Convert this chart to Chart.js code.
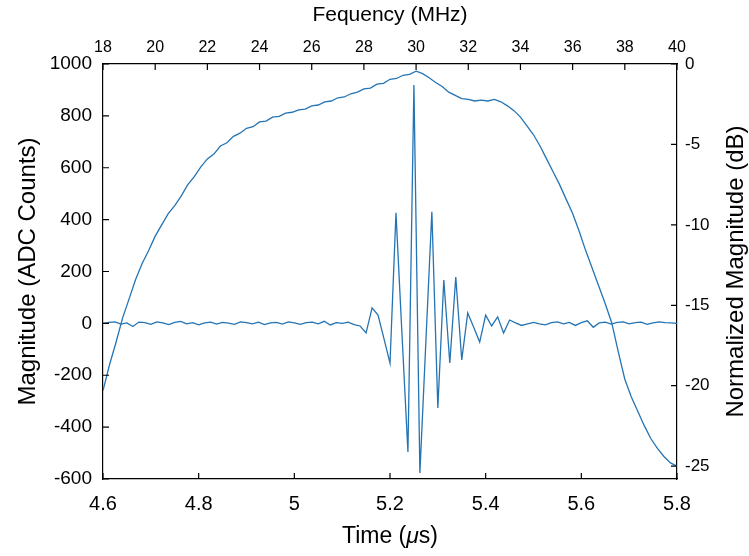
<!DOCTYPE html>
<html>
<head>
<meta charset="utf-8">
<script src="https://cdn.jsdelivr.net/npm/chart.js@4.4.0/dist/chart.umd.min.js"></script>
<style>
    html, body { margin: 0; padding: 0; background: #fff; }
    #wrap { width: 749px; height: 556px; }
</style>
</head>
<body>
<div id="wrap"><canvas id="pulseChart" width="749" height="556"></canvas></div>
<script>
// time-domain echo, one sample every 12.5 ns starting at 4.6 us
var sampleStart = 4.6;
var sampleStep = 0.0125;
var echoCounts = [
    0, 4, 6, -3, 2, -12, 5, 3, -4, 6,
    2, -5, 4, 8, -2, 3, -6, 2, 5, -3,
    4, 1, -4, 6, 3, -2, 5, -5, 2, 4,
    -3, 6, 2, -4, 3, 5, -2, 8, -6, 3,
    0, 5, -5, -10, -37, 60, 32, -60, -153, 426,
    -40, -496, 919, -577, -70, 430, -326, 167, -153, 179,
    -141, 40, -15, -72, 32, -10, 25, -37, 13, 2,
    -8, -2, 4, -2, -6, 3, 6, -2, 4, -8,
    3, 10, -15, 2, 5, -3, 4, 6, -2, 3,
    5, -4, 2, 6, 3, 2, 0
];

// spectrum, one point every 0.25 MHz from 18 MHz
var freqStart = 18;
var freqStep = 0.25;
var spectrumDb = [
    -20.3, -18.7, -17.3, -15.8, -14.6, -13.4, -12.4, -11.6, -10.7, -10.0,
    -9.3, -8.8, -8.2, -7.5, -7.0, -6.4, -5.9, -5.6, -5.1, -4.9,
    -4.5, -4.3, -4.0, -3.9, -3.6, -3.55, -3.3, -3.25, -3.05, -3.0,
    -2.85, -2.8, -2.6, -2.55, -2.35, -2.3, -2.1, -2.05, -1.85, -1.75,
    -1.55, -1.5, -1.25, -1.2, -0.95, -0.9, -0.7, -0.65, -0.45, -0.6,
    -0.85, -1.15, -1.4, -1.75, -1.95, -2.15, -2.2, -2.3, -2.25, -2.3,
    -2.2, -2.35, -2.6, -2.9, -3.3, -3.85, -4.4, -5.1, -5.9, -6.7,
    -7.5, -8.4, -9.3, -10.4, -11.6, -12.7, -13.8, -14.9, -16.1, -17.9,
    -19.6, -20.7, -21.6, -22.5, -23.3, -23.9, -24.4, -24.8, -25.0
];

var timeTicks = [4.6, 4.8, 5, 5.2, 5.4, 5.6, 5.8];
var freqTicks = [18, 20, 22, 24, 26, 28, 30, 32, 34, 36, 38, 40];
var countTicks = [-600, -400, -200, 0, 200, 400, 600, 800, 1000];
var dbTicks = [-25, -20, -15, -10, -5, 0];

var lineColor = '#2474b4';
var fontFamily = '"Liberation Sans", Arial, Helvetica, sans-serif';

function toPoints(values, start, step) {
    return values.map(function (v, i) {
        return { x: +(start + i * step).toFixed(4), y: v };
    });
}

function fixedTicks(list) {
    return function (scale) {
        scale.ticks = list.map(function (v) { return { value: v }; });
    };
}

function plainLabel(value) {
    return String(+Number(value).toFixed(2));
}

var inwardTicks = {
    id: 'inwardTicks',
    afterDraw: function (chart) {
        var ctx = chart.ctx;
        var area = chart.chartArea;
        var len = 6;
        var s = chart.scales;
        ctx.save();
        ctx.strokeStyle = '#000';
        ctx.lineWidth = 1.2;
        ctx.beginPath();
        s.x.ticks.forEach(function (t) {
            var px = s.x.getPixelForValue(t.value);
            ctx.moveTo(px, area.bottom);
            ctx.lineTo(px, area.bottom - len);
        });
        s.xTop.ticks.forEach(function (t) {
            var px = s.xTop.getPixelForValue(t.value);
            ctx.moveTo(px, area.top);
            ctx.lineTo(px, area.top + len);
        });
        s.y.ticks.forEach(function (t) {
            var py = s.y.getPixelForValue(t.value);
            ctx.moveTo(area.left, py);
            ctx.lineTo(area.left + len, py);
        });
        s.yRight.ticks.forEach(function (t) {
            var py = s.yRight.getPixelForValue(t.value);
            ctx.moveTo(area.right, py);
            ctx.lineTo(area.right - len, py);
        });
        ctx.stroke();

        ctx.fillStyle = '#000';
        ctx.textBaseline = 'middle';

        // x label with the italic mu, as in the TeX label
        var parts = [['Time (', ''], ['\u03bc', 'italic '], ['s)', '']];
        var total = 0;
        parts.forEach(function (p) {
            ctx.font = p[1] + '23px ' + fontFamily;
            total += ctx.measureText(p[0]).width;
        });
        var cx = (area.left + area.right) / 2 - total / 2;
        ctx.textAlign = 'left';
        parts.forEach(function (p) {
            ctx.font = p[1] + '23px ' + fontFamily;
            ctx.fillText(p[0], cx, chart.height - 19);
            cx += ctx.measureText(p[0]).width;
        });

        // right-hand label reads bottom-to-top, like the left one
        ctx.font = '24px ' + fontFamily;
        ctx.textAlign = 'center';
        ctx.translate(chart.width - 13, (area.top + area.bottom) / 2);
        ctx.rotate(-Math.PI / 2);
        ctx.fillText('Normalized Magnitude (dB)', 0, 0);
        ctx.restore();
    }
};

var border = { display: true, color: '#000', width: 1.2 };
var noGrid = { display: false, drawTicks: false };

new Chart(document.getElementById('pulseChart'), {
    type: 'line',
    data: {
        datasets: [
            {
                label: 'Time signal',
                data: toPoints(echoCounts, sampleStart, sampleStep),
                xAxisID: 'x',
                yAxisID: 'y',
                borderColor: lineColor,
                borderWidth: 1.3,
                pointRadius: 0,
                tension: 0
            },
            {
                label: 'Spectrum',
                data: toPoints(spectrumDb, freqStart, freqStep),
                xAxisID: 'xTop',
                yAxisID: 'yRight',
                borderColor: lineColor,
                borderWidth: 1.3,
                pointRadius: 0,
                tension: 0
            }
        ]
    },
    options: {
        responsive: false,
        devicePixelRatio: 1,
        animation: false,
        layout: { padding: 0 },
        plugins: {
            legend: { display: false },
            tooltip: { enabled: false }
        },
        scales: {
            x: {
                type: 'linear',
                position: 'bottom',
                min: 4.6,
                max: 5.8,
                afterBuildTicks: fixedTicks(timeTicks),
                afterFit: function (scale) { scale.height = 77; },
                grid: noGrid,
                border: border,
                ticks: {
                    color: '#000',
                    padding: 13,
                    maxRotation: 0,
                    font: { family: fontFamily, size: 20 },
                    callback: plainLabel
                }
            },
            xTop: {
                type: 'linear',
                position: 'top',
                min: 18,
                max: 40,
                afterBuildTicks: fixedTicks(freqTicks),
                afterFit: function (scale) { scale.height = 64; },
                grid: noGrid,
                border: border,
                ticks: {
                    color: '#000',
                    padding: 7,
                    maxRotation: 0,
                    font: { family: fontFamily, size: 16 },
                    callback: plainLabel
                },
                title: {
                    display: true,
                    text: 'Fequency (MHz)',
                    color: '#000',
                    font: { family: fontFamily, size: 21 },
                    padding: { top: 3, bottom: 0 }
                }
            },
            y: {
                type: 'linear',
                position: 'left',
                min: -600,
                max: 1000,
                afterBuildTicks: fixedTicks(countTicks),
                afterFit: function (scale) { scale.width = 103; },
                grid: noGrid,
                border: border,
                ticks: {
                    color: '#000',
                    padding: 11,
                    font: { family: fontFamily, size: 19 },
                    callback: plainLabel
                },
                title: {
                    display: true,
                    text: 'Magnitude (ADC Counts)',
                    color: '#000',
                    font: { family: fontFamily, size: 24 },
                    padding: { top: 14, bottom: 0 }
                }
            },
            yRight: {
                type: 'linear',
                position: 'right',
                min: -25.8,
                max: 0,
                afterBuildTicks: fixedTicks(dbTicks),
                afterFit: function (scale) { scale.width = 72; },
                grid: noGrid,
                border: border,
                ticks: {
                    color: '#000',
                    padding: 8,
                    font: { family: fontFamily, size: 17 },
                    callback: plainLabel
                }
            }
        }
    },
    plugins: [inwardTicks]
});
</script>
</body>
</html>
